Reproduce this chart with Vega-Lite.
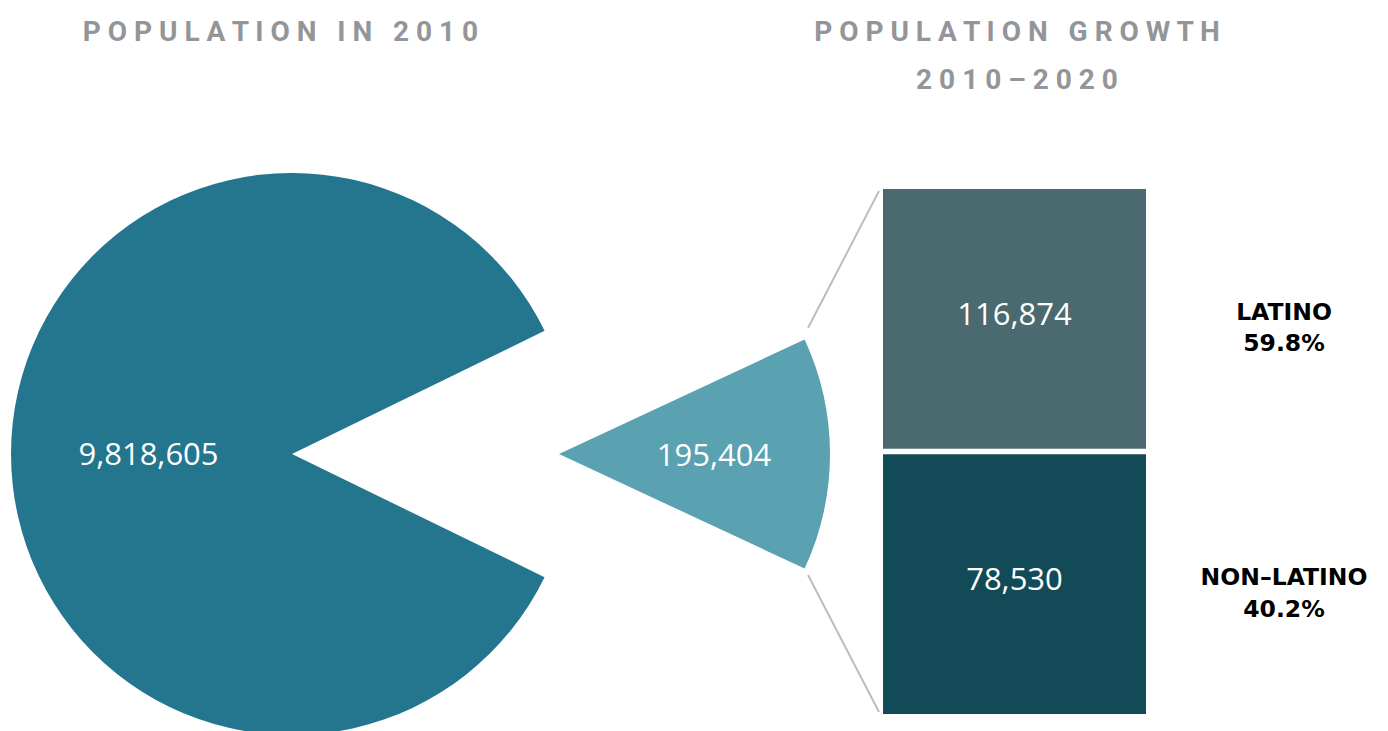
{
  "$schema": "https://vega.github.io/schema/vega-lite/v6.json",
  "width": 1388,
  "height": 731,
  "autosize": "none",
  "padding": 0,
  "background": "white",
  "config": {"view": {"stroke": null}},
  "datasets": {
    "population": [
      {"section": "Population in 2010", "part": "Population 2010", "value": 9818605},
      {"section": "Population growth 2010–2020", "part": "Growth 2010–2020", "value": 195404},
      {"section": "Population growth 2010–2020", "part": "Latino", "label": "LATINO", "value": 116874, "share": 0.598},
      {"section": "Population growth 2010–2020", "part": "Non-Latino", "label": "NON–LATINO", "value": 78530, "share": 0.402}
    ],
    "titles": [
      {"section": "Population in 2010", "title": "P O P U L A T I O N \u00a0 I N \u00a0 2 0 1 0"},
      {"section": "Population growth 2010–2020", "title": "P O P U L A T I O N \u00a0 G R O W T H\n2 0 1 0 – 2 0 2 0"}
    ]
  },
  "data": {"name": "population"},
  "encoding": {
    "x": {
      "field": "section",
      "type": "nominal",
      "axis": null,
      "scale": {"type": "point", "domain": ["Population in 2010", "Population growth 2010–2020"], "range": [292, 1014.5], "padding": 0}
    }
  },
  "layer": [
    {
      "transform": [{"filter": "datum.part === 'Population 2010'"}],
      "mark": {"type": "arc", "theta": 2.0246, "theta2": 7.4002, "radius": 281, "yOffset": 88.5},
      "encoding": {
        "color": {"field": "part", "type": "nominal", "legend": null,
          "scale": {"domain": ["Population 2010", "Growth 2010–2020", "Latino", "Non-Latino"], "range": ["#24758E", "#5AA1B2", "#4B6A6F", "#124B57"]}}
      }
    },
    {
      "transform": [{"filter": "datum.part === 'Growth 2010–2020'"}],
      "mark": {"type": "arc", "theta": 1.1345, "theta2": 2.0071, "radius": 271, "xOffset": -455.5, "yOffset": 88.5},
      "encoding": {
        "color": {"field": "part", "type": "nominal", "legend": null}
      }
    },
    {
      "transform": [{"filter": "datum.part === 'Latino' || datum.part === 'Non-Latino'"}],
      "mark": {"type": "bar", "width": 263},
      "encoding": {
        "y": {"field": "part", "type": "nominal", "axis": null,
          "scale": {"type": "band", "domain": ["Latino", "Non-Latino"], "range": [189, 714], "paddingInner": 0.02, "paddingOuter": 0}},
        "color": {"field": "part", "type": "nominal", "legend": null}
      }
    },
    {
      "transform": [{"filter": "datum.part === 'Latino'"}],
      "mark": {"type": "rule", "stroke": "#BDBDBD", "strokeWidth": 2, "xOffset": -135.5, "x2Offset": -206.5, "yOffset": 2, "y2Offset": 139},
      "encoding": {
        "x2": {"field": "section"},
        "y": {"field": "part", "type": "nominal", "axis": null, "bandPosition": 0},
        "y2": {"field": "part", "bandPosition": 0}
      }
    },
    {
      "transform": [{"filter": "datum.part === 'Non-Latino'"}],
      "mark": {"type": "rule", "stroke": "#BDBDBD", "strokeWidth": 2, "xOffset": -135.5, "x2Offset": -206.5, "yOffset": -2, "y2Offset": -139},
      "encoding": {
        "x2": {"field": "section"},
        "y": {"field": "part", "type": "nominal", "axis": null, "bandPosition": 1},
        "y2": {"field": "part", "bandPosition": 1}
      }
    },
    {
      "transform": [{"filter": "datum.part === 'Population 2010'"}],
      "mark": {"type": "text", "font": "Open Sans", "fontSize": 31, "color": "white", "align": "center", "baseline": "alphabetic", "dx": -143.5, "dy": 99.5},
      "encoding": {"text": {"field": "value", "type": "quantitative", "format": ","}}
    },
    {
      "transform": [{"filter": "datum.part === 'Growth 2010–2020'"}],
      "mark": {"type": "text", "font": "Open Sans", "fontSize": 31, "color": "white", "align": "center", "baseline": "alphabetic", "dx": -300.5, "dy": 100},
      "encoding": {"text": {"field": "value", "type": "quantitative", "format": ","}}
    },
    {
      "transform": [{"filter": "datum.part === 'Latino' || datum.part === 'Non-Latino'"}],
      "mark": {"type": "text", "font": "Open Sans", "fontSize": 31, "color": "white", "align": "center", "baseline": "alphabetic", "dy": 6},
      "encoding": {
        "y": {"field": "part", "type": "nominal", "axis": null},
        "text": {"field": "value", "type": "quantitative", "format": ","}
      }
    },
    {
      "transform": [{"filter": "datum.part === 'Latino' || datum.part === 'Non-Latino'"}],
      "mark": {"type": "text", "font": "DejaVu Sans", "fontWeight": "bold", "fontSize": 23.5, "color": "black", "align": "center", "baseline": "alphabetic", "dx": 269.5, "dy": 1},
      "encoding": {
        "y": {"field": "part", "type": "nominal", "axis": null},
        "text": {"field": "label", "type": "nominal"}
      }
    },
    {
      "transform": [{"filter": "datum.part === 'Latino' || datum.part === 'Non-Latino'"}],
      "mark": {"type": "text", "font": "DejaVu Sans", "fontWeight": "bold", "fontSize": 23.5, "color": "black", "align": "center", "baseline": "alphabetic", "dx": 269.5, "dy": 32.5},
      "encoding": {
        "y": {"field": "part", "type": "nominal", "axis": null},
        "text": {"field": "share", "type": "quantitative", "format": ".1%"}
      }
    },
    {
      "data": {"name": "titles"},
      "transform": [{"filter": "datum.section === 'Population in 2010'"}],
      "mark": {"type": "text", "font": "Roboto", "fontWeight": "bold", "fontSize": 28, "color": "#939598", "align": "center", "baseline": "alphabetic", "dx": -11.5, "dy": -324.5},
      "encoding": {"text": {"field": "title", "type": "nominal"}}
    },
    {
      "data": {"name": "titles"},
      "transform": [{"filter": "datum.section === 'Population growth 2010–2020'"}],
      "mark": {"type": "text", "font": "Roboto", "fontWeight": "bold", "fontSize": 28, "color": "#939598", "align": "center", "baseline": "alphabetic", "lineBreak": "\n", "lineHeight": 48, "dx": 2.5, "dy": -324.5},
      "encoding": {"text": {"field": "title", "type": "nominal"}}
    }
  ]
}
